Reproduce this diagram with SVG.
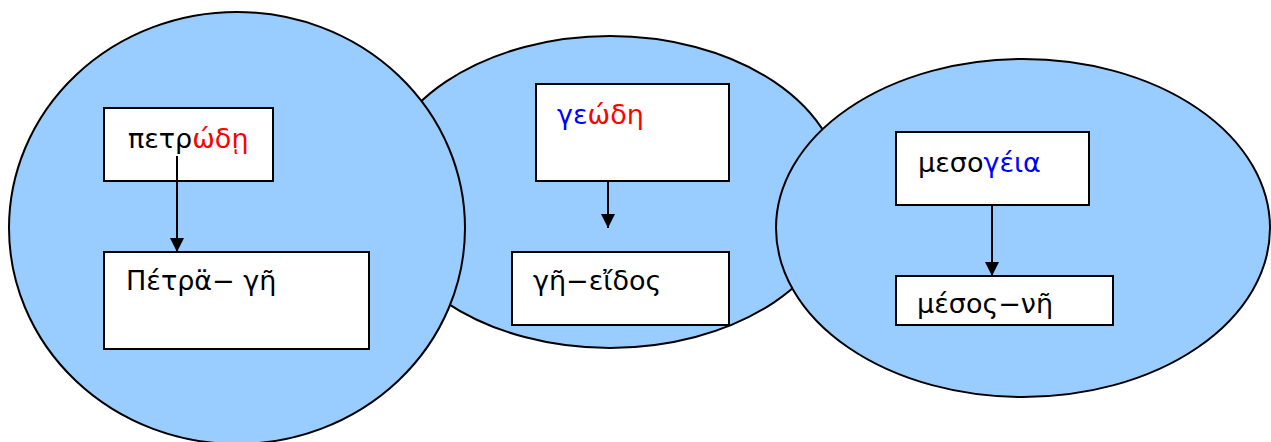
<svg xmlns="http://www.w3.org/2000/svg" width="1271" height="442" viewBox="0 0 1271 442">
<style>
.ell{fill:#99ccff;stroke:#000;stroke-width:2}
.box{fill:#fff;stroke:#000;stroke-width:2}
.t{font-family:"DejaVu Sans","Noto Sans",sans-serif;font-size:27px;fill:#000}
.r{fill:#ff0000}
.b{fill:#0000ff}
.c{stroke:#000;stroke-width:2;fill:none;marker-end:url(#ah)}
</style>
<defs>
<marker id="ah" viewBox="0 0 10 10" refX="10" refY="5" markerWidth="14" markerHeight="14" markerUnits="userSpaceOnUse" orient="auto">
<path d="M0,0 L10,5 L0,10 Z" fill="#000"/>
</marker>
</defs>
<g id="ellipse-2"><ellipse class="ell" cx="610" cy="192" rx="232" ry="156"/></g>
<g id="ellipse-1"><ellipse class="ell" cx="237" cy="228" rx="228" ry="216"/></g>
<g id="ellipse-3"><ellipse class="ell" cx="1023" cy="228" rx="247" ry="169"/></g>
<g id="node-petrode"><rect class="box" x="104" y="108" width="169" height="73"/><text class="t" x="128" y="148">πετρ<tspan class="r">ώδῃ</tspan></text></g>
<g id="node-petra-ge"><rect class="box" x="104" y="252" width="265" height="97"/><text class="t" x="126" y="290">Πέτρα̈− γῆ</text></g>
<g id="node-geode"><rect class="box" x="536" y="84" width="193" height="97"/><text class="t" x="557" y="124"><tspan class="b">γε</tspan><tspan class="r">ώδη</tspan></text></g>
<g id="node-ge-eidos"><rect class="box" x="512" y="252" width="217" height="73"/><text class="t" x="533" y="290">γῆ−εἴδος</text></g>
<g id="node-mesogeia"><rect class="box" x="896" y="132" width="193" height="73"/><text class="t" x="918" y="172">μεσο<tspan class="b">γέια</tspan></text></g>
<g id="node-mesos-ge"><rect class="box" x="896" y="276" width="217" height="49"/><text class="t" x="917" y="313">μέσος−νῆ</text></g>
<g id="connectors">
<line class="c" x1="177" y1="156" x2="177" y2="252"/>
<line class="c" x1="608" y1="181" x2="608" y2="228"/>
<line class="c" x1="992" y1="205" x2="992" y2="276"/>
</g>
</svg>
